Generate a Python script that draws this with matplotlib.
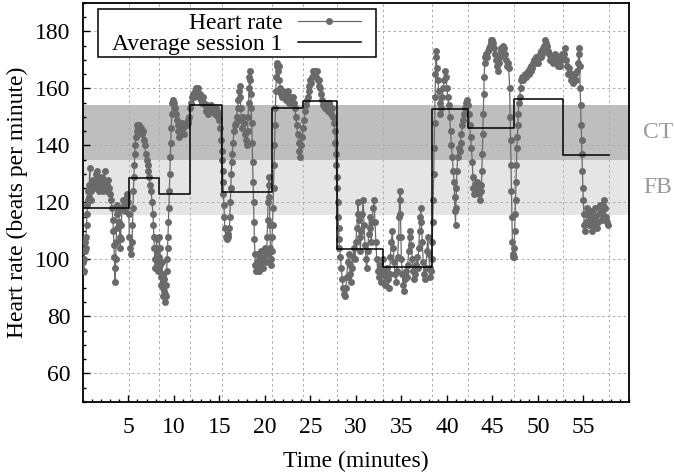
import matplotlib.pyplot as plt
from matplotlib.ticker import MultipleLocator
from matplotlib.patches import Rectangle
import matplotlib.transforms as mtransforms

plt.rcParams['font.family'] = ['Liberation Serif', 'DejaVu Serif']
plt.rcParams['font.size'] = 17

# session boundaries (minutes) and average heart rate per session
session_edges = [0, 5.04, 8.35, 11.72, 15.25, 20.73, 24.2, 27.97, 33.0,
                 38.36, 42.3, 47.37, 52.78, 57.77]
session_avg = [118.1, 128.4, 123.1, 154.0, 123.5, 153.0, 155.4, 103.7,
               97.4, 152.6, 146.2, 156.3, 136.7]

# training zones (bpm)
zone_names = ['CT', 'FB']
zone_low = [135.0, 115.5]
zone_high = [154.3, 135.0]
zone_colors = ['#bebebe', '#e5e5e5']

# heart rate samples: (minute, bpm)
hr_points = [
    # 0 - 5 min
    (0.05, 99), (0.1, 96), (0.15, 100), (0.2, 103), (0.25, 106), (0.3, 104), (0.35, 108),
    (0.4, 112), (0.45, 116), (0.5, 119), (0.55, 121), (0.6, 124), (0.65, 122), (0.7, 126),
    (0.75, 132), (0.8, 125), (0.85, 121), (0.9, 124), (1.0, 126), (1.1, 128), (1.2, 125),
    (1.3, 127), (1.4, 130), (1.5, 128), (1.6, 131), (1.7, 126), (1.8, 124), (1.9, 127),
    (2.0, 129), (2.1, 126), (2.2, 124), (2.3, 128), (2.4, 131), (2.5, 126), (2.6, 124),
    (2.7, 126), (2.8, 128), (2.9, 125), (3.0, 123), (3.1, 121), (3.2, 118), (3.3, 114),
    (3.35, 110), (3.4, 105), (3.45, 101), (3.5, 97), (3.55, 92), (3.6, 100), (3.65, 106),
    (3.7, 111), (3.75, 116), (3.8, 119), (3.9, 117), (4.0, 113), (4.05, 108), (4.1, 104),
    (4.15, 107), (4.2, 112), (4.3, 118), (4.4, 121), (4.5, 120), (4.6, 117), (4.7, 119),
    (4.8, 122), (4.9, 123), (5.0, 120), (5.05, 116),
    # 5 - 8.35 min
    (5.1, 108), (5.2, 104), (5.3, 102), (5.4, 106), (5.45, 112), (5.5, 118), (5.55, 124),
    (5.6, 129), (5.65, 133), (5.7, 137), (5.75, 140), (5.8, 143), (5.9, 145), (6.0, 147),
    (6.1, 146), (6.2, 147), (6.3, 145), (6.4, 146), (6.5, 144), (6.6, 145), (6.7, 142),
    (6.8, 140), (6.9, 137), (7.0, 135), (7.1, 133), (7.2, 131), (7.3, 129), (7.4, 126),
    (7.5, 124), (7.6, 120), (7.7, 116), (7.75, 112), (7.8, 108), (7.85, 104), (7.9, 100),
    (7.95, 97), (8.0, 100), (8.05, 104), (8.1, 107), (8.15, 103),
    # 8.35 - 11.7 min
    (8.2, 99), (8.3, 96), (8.35, 101), (8.4, 108), (8.45, 104), (8.5, 98), (8.55, 94),
    (8.6, 91), (8.65, 95), (8.7, 99), (8.75, 94), (8.8, 90), (8.85, 87), (8.9, 89),
    (8.95, 93), (9.0, 88), (9.05, 85), (9.1, 87), (9.15, 91), (9.2, 96), (9.25, 100),
    (9.3, 104), (9.35, 108), (9.4, 113), (9.45, 118), (9.5, 124), (9.55, 130), (9.6, 136),
    (9.65, 141), (9.7, 146), (9.75, 151), (9.8, 155), (9.9, 156), (10.0, 155), (10.1, 153),
    (10.2, 151), (10.3, 149), (10.4, 147), (10.5, 145), (10.6, 143), (10.7, 145),
    (10.8, 147), (10.9, 148), (11.0, 146), (11.1, 144), (11.2, 147), (11.3, 148),
    (11.4, 147), (11.5, 148), (11.6, 149),
    # 11.7 - 15.25 min
    (11.7, 150), (11.8, 153), (11.9, 155), (12.0, 157), (12.1, 158), (12.2, 157),
    (12.3, 159), (12.4, 160), (12.5, 159), (12.6, 160), (12.7, 158), (12.8, 157),
    (12.9, 158), (13.0, 156), (13.1, 155), (13.2, 157), (13.3, 155), (13.4, 154),
    (13.5, 152), (13.6, 154), (13.7, 153), (13.8, 151), (13.9, 153), (14.0, 152),
    (14.1, 154), (14.2, 153), (14.3, 152), (14.4, 153), (14.5, 151), (14.6, 153),
    (14.7, 152), (14.8, 151), (14.9, 150), (15.0, 149), (15.1, 146), (15.2, 142),
    (15.25, 138), (15.3, 135), (15.35, 131), (15.4, 127), (15.45, 123),
    # 15.25 - 20.7 min
    (15.5, 119), (15.55, 115), (15.6, 111), (15.7, 108), (15.8, 107), (15.9, 109),
    (16.0, 108), (16.1, 111), (16.15, 115), (16.2, 120), (16.25, 125), (16.3, 130),
    (16.35, 134), (16.4, 137), (16.5, 141), (16.6, 145), (16.7, 147), (16.8, 148),
    (16.9, 150), (17.0, 153), (17.1, 156), (17.2, 159), (17.25, 161), (17.3, 157),
    (17.35, 153), (17.4, 149), (17.5, 146), (17.6, 150), (17.7, 148), (17.8, 144),
    (17.9, 142), (18.0, 140), (18.1, 145), (18.15, 150), (18.2, 155), (18.25, 160),
    (18.3, 164), (18.35, 166), (18.4, 163), (18.45, 158), (18.5, 153), (18.55, 148),
    (18.6, 141), (18.65, 134), (18.7, 127), (18.75, 120), (18.8, 113), (18.85, 107),
    (18.9, 102), (18.95, 98), (19.0, 96), (19.1, 99), (19.2, 102), (19.3, 98), (19.4, 96),
    (19.5, 100), (19.6, 103), (19.7, 99), (19.8, 97), (19.9, 101), (20.0, 104),
    (20.1, 99), (20.2, 102), (20.25, 108), (20.3, 114), (20.35, 120), (20.4, 126),
    (20.45, 129), (20.5, 122), (20.55, 112), (20.6, 104), (20.65, 100), (20.7, 98),
    (20.75, 103), (20.8, 108),
    # 20.7 - 24.2 min
    (20.85, 112), (20.9, 118), (20.95, 125), (21.0, 133), (21.05, 140), (21.1, 147),
    (21.15, 153), (21.2, 159), (21.25, 164), (21.3, 168), (21.35, 169), (21.4, 166),
    (21.5, 168), (21.6, 163), (21.7, 160), (21.8, 158), (21.9, 157), (22.0, 159),
    (22.1, 157), (22.2, 158), (22.3, 156), (22.4, 158), (22.5, 159), (22.6, 157),
    (22.7, 155), (22.8, 157), (22.9, 156), (23.0, 155), (23.1, 157), (23.2, 155),
    (23.3, 153), (23.4, 150), (23.5, 147), (23.6, 144), (23.7, 141), (23.8, 138),
    (23.9, 136), (24.0, 140), (24.1, 143), (24.2, 146), (24.3, 149), (24.4, 152),
    (24.5, 154), (24.6, 156), (24.7, 157),
    # 24.2 - 28 min
    (24.8, 159), (24.9, 161), (25.0, 163), (25.1, 162), (25.2, 164), (25.3, 166),
    (25.4, 165), (25.5, 166), (25.6, 164), (25.7, 166), (25.8, 163), (25.9, 161),
    (26.0, 163), (26.1, 160), (26.2, 158), (26.3, 156), (26.4, 154), (26.5, 155),
    (26.6, 153), (26.7, 155), (26.8, 154), (26.9, 152), (27.0, 154), (27.1, 155),
    (27.2, 153), (27.3, 151), (27.4, 153), (27.5, 150), (27.6, 148), (27.7, 145),
    (27.75, 141), (27.8, 137), (27.85, 133), (27.9, 129), (27.95, 125), (28.0, 120),
    (28.05, 115), (28.1, 111), (28.15, 107), (28.2, 104),
    # 28 - 33 min
    (28.3, 101), (28.4, 97), (28.5, 93), (28.6, 90), (28.7, 88), (28.8, 87), (28.9, 90),
    (29.0, 94), (29.1, 99), (29.2, 102), (29.3, 98), (29.4, 95), (29.5, 92), (29.6, 97),
    (29.7, 101), (29.8, 104), (29.9, 100), (30.0, 106), (30.1, 111), (30.2, 116),
    (30.25, 120), (30.3, 114), (30.4, 108), (30.5, 103), (30.6, 110), (30.7, 116),
    (30.8, 121), (30.9, 112), (31.0, 105), (31.1, 100), (31.2, 97), (31.3, 103),
    (31.4, 109), (31.5, 115), (31.6, 111), (31.7, 106), (31.8, 113), (31.9, 118),
    (32.0, 121), (32.1, 113), (32.2, 106), (32.3, 100), (32.4, 96), (32.5, 94),
    (32.6, 98), (32.7, 95), (32.8, 92), (32.9, 96), (33.0, 100), (33.1, 95),
    # 33 - 38.4 min
    (33.2, 91), (33.3, 94), (33.4, 97), (33.5, 93), (33.6, 90), (33.7, 95), (33.8, 101),
    (33.9, 106), (34.0, 110), (34.1, 104), (34.2, 99), (34.3, 95), (34.4, 92), (34.5, 96),
    (34.6, 101), (34.7, 108), (34.75, 115), (34.8, 121), (34.85, 124), (34.9, 116),
    (34.95, 108), (35.0, 100), (35.1, 95), (35.2, 91), (35.3, 89), (35.4, 93), (35.5, 96),
    (35.6, 94), (35.7, 98), (35.8, 103), (35.9, 108), (36.0, 110), (36.1, 105),
    (36.2, 100), (36.3, 96), (36.4, 93), (36.5, 95), (36.6, 98), (36.7, 101), (36.8, 97),
    (36.9, 104), (37.0, 110), (37.1, 115), (37.15, 118), (37.2, 113), (37.3, 106),
    (37.4, 99), (37.5, 95), (37.6, 93), (37.7, 97), (37.8, 103), (37.9, 108), (38.0, 102),
    (38.1, 97), (38.2, 94), (38.3, 96), (38.35, 100),
    # 38.4 - 42.3 min
    (38.4, 106), (38.45, 113), (38.5, 121), (38.55, 130), (38.6, 139), (38.65, 148),
    (38.7, 157), (38.75, 165), (38.8, 173), (38.85, 171), (38.9, 167), (39.0, 163),
    (39.1, 159), (39.2, 155), (39.3, 151), (39.4, 153), (39.5, 157), (39.6, 160),
    (39.7, 163), (39.8, 166), (39.9, 164), (40.0, 160), (40.1, 157), (40.2, 154),
    (40.3, 150), (40.4, 145), (40.5, 140), (40.6, 136), (40.7, 131), (40.8, 127),
    (40.85, 122), (40.9, 117), (40.95, 112), (41.0, 118), (41.05, 125), (41.1, 131),
    (41.2, 136), (41.3, 139), (41.4, 138), (41.5, 141), (41.6, 144), (41.7, 147),
    (41.8, 149), (41.9, 151), (42.0, 153), (42.1, 155), (42.2, 156),
    # 42.3 - 47.4 min
    (42.3, 154), (42.4, 151), (42.5, 147), (42.6, 143), (42.7, 139), (42.8, 134),
    (42.85, 129), (42.9, 125), (43.0, 123), (43.1, 126), (43.2, 124), (43.3, 127),
    (43.4, 125), (43.5, 123), (43.6, 121), (43.7, 124), (43.8, 126), (43.85, 131),
    (43.9, 137), (43.95, 144), (44.0, 151), (44.05, 158), (44.1, 164), (44.15, 169),
    (44.2, 171), (44.3, 172), (44.4, 171), (44.5, 173), (44.6, 174), (44.7, 175),
    (44.8, 176), (44.9, 177), (45.0, 177), (45.1, 176), (45.2, 174), (45.3, 172),
    (45.4, 170), (45.5, 168), (45.6, 166), (45.7, 169), (45.8, 171), (45.9, 173),
    (46.0, 174), (46.1, 173), (46.2, 175), (46.3, 174), (46.4, 172), (46.5, 170),
    (46.6, 168), (46.7, 169), (46.8, 167), (46.9, 160), (46.95, 150), (47.0, 142),
    (47.05, 133), (47.1, 124), (47.15, 115), (47.2, 106), (47.25, 102), (47.3, 101),
    (47.35, 101),
    # 47.4 - 52.8 min
    (47.4, 104), (47.45, 110), (47.5, 116), (47.55, 121), (47.6, 127), (47.65, 133),
    (47.7, 139), (47.75, 143), (47.8, 147), (47.85, 151), (47.9, 155), (48.0, 157),
    (48.1, 160), (48.2, 163), (48.3, 164), (48.4, 163), (48.5, 164), (48.6, 165),
    (48.7, 164), (48.8, 165), (48.9, 166), (49.0, 165), (49.1, 167), (49.2, 166),
    (49.3, 168), (49.4, 167), (49.5, 169), (49.6, 170), (49.7, 169), (49.8, 171),
    (49.9, 170), (50.0, 169), (50.1, 171), (50.2, 172), (50.3, 171), (50.4, 173),
    (50.5, 172), (50.6, 174), (50.7, 175), (50.8, 177), (50.9, 176), (51.0, 175),
    (51.1, 173), (51.2, 172), (51.3, 170), (51.4, 171), (51.5, 170), (51.6, 171),
    (51.7, 169), (51.8, 170), (51.9, 172), (52.0, 171), (52.1, 170), (52.2, 168),
    (52.3, 169), (52.4, 168), (52.5, 170), (52.6, 172), (52.7, 171),
    # 52.8 - 57.8 min
    (52.9, 172), (53.0, 174), (53.1, 170), (53.2, 168), (53.3, 165), (53.4, 167),
    (53.5, 165), (53.6, 163), (53.7, 165), (53.8, 164), (53.9, 162), (54.0, 163),
    (54.1, 165), (54.2, 163), (54.3, 166), (54.4, 169), (54.5, 172), (54.55, 174),
    (54.6, 168), (54.65, 160), (54.7, 154), (54.75, 147), (54.8, 142), (54.85, 137),
    (54.9, 131), (54.95, 125), (55.0, 121), (55.05, 116), (55.1, 112), (55.2, 110),
    (55.3, 113), (55.4, 118), (55.5, 116), (55.6, 112), (55.7, 115), (55.8, 117),
    (55.9, 113), (56.0, 110), (56.1, 112), (56.2, 115), (56.3, 118), (56.4, 114),
    (56.5, 111), (56.6, 113), (56.7, 116), (56.8, 119), (56.9, 117), (57.0, 114),
    (57.1, 116), (57.2, 119), (57.3, 121), (57.4, 118), (57.5, 115), (57.6, 113),
    (57.7, 112),
]

hr_minutes = [p[0] for p in hr_points]
hr_bpm = [p[1] for p in hr_points]

fig = plt.figure(figsize=(6.74, 4.74), dpi=100)
ax = fig.add_subplot(111)
fig.subplots_adjust(left=0.123, right=0.933, top=0.994, bottom=0.152)

# zones
trans = mtransforms.blended_transform_factory(ax.transAxes, ax.transData)
for name, lo, hi, col in zip(zone_names, zone_low, zone_high, zone_colors):
    ax.axhspan(lo, hi, color=col, lw=0, zorder=0)
    ax.text(1.026, (lo + hi) / 2, name, transform=trans, ha='left', va='center',
            color='#999999', clip_on=False)

# grid: horizontal at major y ticks, vertical at session boundaries
grid_style = dict(color='#aaaaaa', linestyle=(0, (2.5, 3)), lw=0.7, zorder=1)
for yv in range(60, 181, 20):
    ax.axhline(yv, **grid_style)
for e in session_edges[1:]:
    ax.axvline(e, **grid_style)

ax.plot(hr_minutes, hr_bpm, color='#6a6a6a', lw=0.9, marker='o', markersize=5,
        markeredgewidth=0, label='Heart rate', zorder=3)
ax.step(session_edges, session_avg + [session_avg[-1]], where='post', color='black',
        lw=1.1, label='Average session 1', zorder=4)

ax.set_xlim(0, 60)
ax.set_ylim(50, 190)
ax.xaxis.set_minor_locator(MultipleLocator(1))
ax.yaxis.set_minor_locator(MultipleLocator(5))
ax.set_xticks([5, 10, 15, 20, 25, 30, 35, 40, 45, 50, 55])
ax.set_yticks([60, 80, 100, 120, 140, 160, 180])
ax.tick_params(which='both', direction='in', top=False, right=False, width=1)
ax.tick_params(which='major', length=5, pad=11)
ax.tick_params(which='minor', length=2.5)
ax.tick_params(axis='y', pad=9)
for s in ax.spines.values():
    s.set_linewidth(1.3)

ax.set_xlabel('Time (minutes)', labelpad=9)
ax.set_ylabel('Heart rate (beats per minute)', labelpad=5)

# legend box drawn separately so it can be wider than its content
ax.add_patch(Rectangle((0.0275, 0.865), 0.509, 0.12, transform=ax.transAxes,
                       facecolor='white', edgecolor='black', lw=1.1, zorder=4.5))
leg = ax.legend(loc='upper left', bbox_to_anchor=(0.047, 0.985), borderaxespad=0,
                markerfirst=False, frameon=False, handlelength=2.7,
                handletextpad=0.64, borderpad=0.15, labelspacing=0.0, numpoints=1)

fig.savefig('out.png', dpi=100)
